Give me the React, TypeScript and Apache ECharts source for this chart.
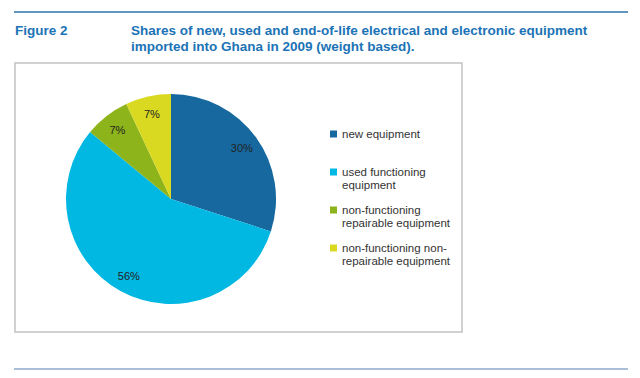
import React, { useEffect, useRef } from "react";
import * as echarts from "echarts";

const categories = [
  "new equipment",
  "used functioning\nequipment",
  "non-functioning\nrepairable equipment",
  "non-functioning non-\nrepairable equipment",
];
const shares = [30, 56, 7, 7];
const sliceColors = ["#16689f", "#00b8e2", "#8db41b", "#d9d921"];

const figureLabel = "Figure 2";
const titleText =
  "Shares of new, used and end-of-life electrical and electronic equipment\nimported into Ghana in 2009 (weight based).";

const FONT = "'Liberation Sans', Arial, sans-serif";

export default function App() {
  const ref = useRef<HTMLDivElement>(null);
  useEffect(() => {
    if (!ref.current) return;
    const chart = echarts.init(ref.current, undefined, { renderer: "svg" });
    const data = categories.map((name, i) => ({
      name,
      value: shares[i],
      itemStyle: { color: sliceColors[i] },
    }));
    chart.setOption({
      animation: false,
      backgroundColor: "#ffffff",
      title: [
        {
          text: figureLabel,
          left: 15,
          top: 22,
          padding: 0,
          textStyle: { fontFamily: FONT, fontSize: 13.5, fontWeight: "bold", color: "#1b73b6", lineHeight: 16 },
        },
        {
          text: titleText,
          left: 131,
          top: 22,
          padding: 0,
          textStyle: { fontFamily: FONT, fontSize: 13.5, fontWeight: "bold", color: "#1b73b6", lineHeight: 16 },
        },
      ],
      graphic: [
        { type: "line", shape: { x1: 14, y1: 12, x2: 628, y2: 12 }, style: { stroke: "#2a72a8", lineWidth: 1.3 }, silent: true },
        { type: "line", shape: { x1: 14, y1: 369, x2: 628, y2: 369 }, style: { stroke: "#8ea8cb", lineWidth: 1.5 }, silent: true },
        {
          type: "rect",
          z: -10,
          shape: { x: 15, y: 63, width: 447, height: 269 },
          style: { fill: "#ffffff", stroke: "#c2c2c2", lineWidth: 1.5 },
          silent: true,
        },
      ],
      legend: {
        orient: "vertical",
        left: 330,
        top: 114.5,
        padding: 0,
        itemGap: -1,
        itemWidth: 7,
        itemHeight: 7,
        icon: "rect",
        selectedMode: false,
        data: categories.map((name, i) => ({ name, itemStyle: { color: sliceColors[i] } })),
        formatter: (name: string) => " \n" + (name.indexOf("\n") >= 0 ? name : name + "\n "),
        textStyle: {
          fontFamily: FONT,
          fontSize: 11.5,
          color: "#333333",
          lineHeight: 13,
        },
      },
      series: [
        {
          type: "pie",
          center: [171, 199],
          radius: [0, 105],
          startAngle: 90,
          clockwise: true,
          silent: true,
          label: { show: false },
          labelLine: { show: false },
          itemStyle: { borderWidth: 0 },
          data,
        },
        {
          type: "pie",
          center: [171, 199],
          radius: [64, 105],
          startAngle: 90,
          clockwise: true,
          silent: true,
          itemStyle: { color: "rgba(0,0,0,0)", borderWidth: 0 },
          label: {
            show: true,
            position: "inside",
            formatter: "{c}%",
            fontFamily: FONT,
            fontSize: 11,
            color: "#222222",
          },
          labelLine: { show: false },
          data: categories.map((name, i) => ({ name, value: shares[i] })),
        },
      ],
    });
    return () => chart.dispose();
  }, []);
  return (
    <div
      ref={ref}
      style={{ position: "fixed", left: 0, top: 0, width: 640, height: 378 }}
    />
  );
}
